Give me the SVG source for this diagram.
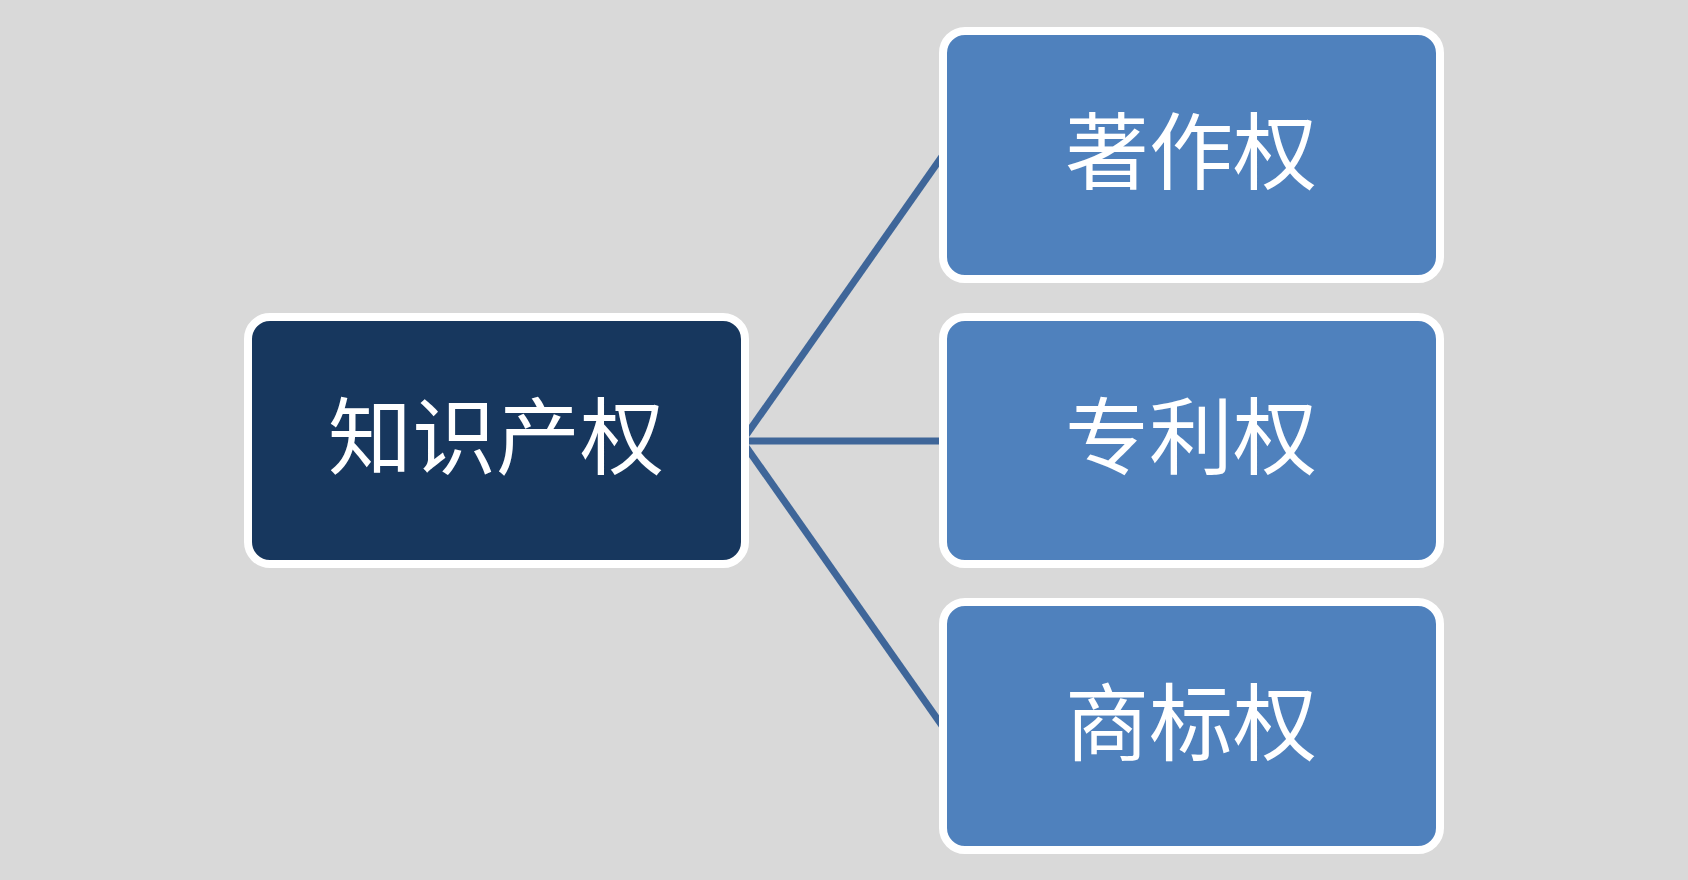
<svg xmlns="http://www.w3.org/2000/svg" width="1688" height="880" viewBox="0 0 1688 880">
<style>
.box{stroke:#fff;stroke-width:8}
.t{font-family:"Noto Sans CJK SC",sans-serif;font-size:84px;fill:#fff;text-anchor:middle;dominant-baseline:central}
.c{stroke:#3f6699;stroke-width:7;fill:none}
</style>
<rect width="1688" height="880" fill="#d9d9d9"/>
<g id="connectors">
<line class="c" x1="742" y1="441" x2="943" y2="155"/>
<line class="c" x1="742" y1="441" x2="943" y2="441"/>
<line class="c" x1="742" y1="441" x2="943" y2="727"/>
</g>
<g id="root"><rect class="box" x="248" y="317" width="497" height="247" rx="22" fill="#17375e"/><text class="t" x="496" y="431">知识产权</text></g>
<g id="n1"><rect class="box" x="943" y="31" width="497" height="248" rx="22" fill="#4f81bd"/><text class="t" x="1191" y="146">著作权</text></g>
<g id="n2"><rect class="box" x="943" y="317" width="497" height="247" rx="22" fill="#4f81bd"/><text class="t" x="1191" y="431">专利权</text></g>
<g id="n3"><rect class="box" x="943" y="602" width="497" height="248" rx="22" fill="#4f81bd"/><text class="t" x="1191" y="717">商标权</text></g>
</svg>
